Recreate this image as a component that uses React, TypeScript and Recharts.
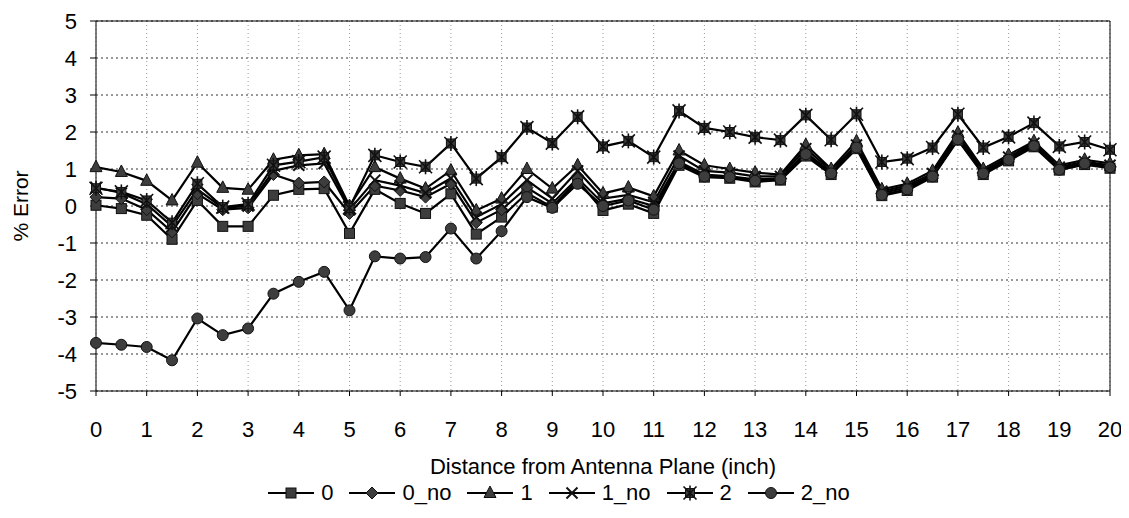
import {
  LineChart,
  Line,
  XAxis,
  YAxis,
  CartesianGrid,
  Legend,
  ReferenceLine,
} from "recharts";

// Distance from the antenna plane (inch), sampled every half inch
const distances = [
  0, 0.5, 1, 1.5, 2, 2.5, 3, 3.5, 4, 4.5, 5, 5.5, 6, 6.5, 7, 7.5, 8, 8.5, 9, 9.5, 10,
  10.5, 11, 11.5, 12, 12.5, 13, 13.5, 14, 14.5, 15, 15.5, 16, 16.5, 17, 17.5, 18, 18.5,
  19, 19.5, 20,
];

// % error for each configuration
const err0 = [
  0.02, -0.07, -0.25, -0.9, 0.15, -0.55, -0.55, 0.29, 0.45, 0.47, -0.74, 0.45, 0.07, -0.2,
  0.33, -0.76, -0.3, 0.35, -0.03, 0.69, -0.12, 0.05, -0.2, 1.1, 0.78, 0.75, 0.65, 0.7,
  1.35, 0.85, 1.55, 0.28, 0.42, 0.78, 1.78, 0.85, 1.22, 1.6, 0.97, 1.12, 1.02,
];
const err0No = [
  0.24, 0.2, -0.1, -0.7, 0.33, -0.1, -0.05, 0.85, 0.62, 0.65, -0.2, 0.55, 0.42, 0.24,
  0.6, -0.45, -0.1, 0.5, 0.07, 0.75, 0.07, 0.2, 0.0, 1.2, 0.85, 0.8, 0.72, 0.75, 1.45,
  0.9, 1.6, 0.35, 0.5, 0.83, 1.85, 0.9, 1.28, 1.65, 1.0, 1.17, 1.07,
];
const err1 = [
  1.05, 0.92, 0.68, 0.15, 1.17, 0.49, 0.44, 1.25, 1.37, 1.4, 0.0, 1.05, 0.74, 0.47, 0.96,
  -0.12, 0.2, 1.0, 0.47, 1.1, 0.34, 0.5, 0.26, 1.5, 1.1, 1.0, 0.9, 0.85, 1.65, 1.0, 1.75,
  0.45, 0.6, 0.95, 1.98, 1.0, 1.38, 1.75, 1.1, 1.25, 1.15,
];
const err1No = [
  0.5, 0.35, 0.05, -0.55, 0.45, -0.05, 0.0, 0.95, 1.1, 1.15, -0.1, 0.7, 0.55, 0.35, 0.75,
  -0.3, 0.05, 0.7, 0.2, 0.95, 0.2, 0.3, 0.1, 1.35, 0.95, 0.9, 0.8, 0.8, 1.55, 0.95, 1.65,
  0.4, 0.55, 0.88, 1.9, 0.95, 1.32, 1.7, 1.05, 1.2, 1.1,
];
const err2 = [
  0.48, 0.38, 0.15, -0.45, 0.6, -0.03, 0.05, 1.1, 1.2, 1.32, -0.05, 1.37, 1.19, 1.06,
  1.69, 0.74, 1.32, 2.12, 1.7, 2.41, 1.61, 1.76, 1.32, 2.57, 2.11, 2.0, 1.86, 1.78, 2.45,
  1.79, 2.48, 1.19, 1.28, 1.58, 2.48, 1.58, 1.87, 2.24, 1.61, 1.73, 1.52,
];
const err2No = [
  -3.7, -3.75, -3.81, -4.17, -3.04, -3.49, -3.31, -2.37, -2.05, -1.78, -2.82, -1.36, -1.42,
  -1.38, -0.61, -1.42, -0.68, 0.24, -0.05, 0.6, 0.0, 0.15, -0.1, 1.15, 0.8, 0.78, 0.68,
  0.72, 1.4, 0.88, 1.58, 0.3, 0.45, 0.8, 1.8, 0.88, 1.25, 1.62, 0.98, 1.15, 1.05,
];

const xTicks = [0, 1, 2, 3, 4, 5, 6, 7, 8, 9, 10, 11, 12, 13, 14, 15, 16, 17, 18, 19, 20];
const yTicks = [-5, -4, -3, -2, -1, 0, 1, 2, 3, 4, 5];

type Shape = "square" | "diamond" | "triangle" | "cross" | "star" | "circle";

const series: { key: string; name: string; values: number[]; shape: Shape }[] = [
  { key: "s0", name: "0", values: err0, shape: "square" },
  { key: "s0no", name: "0_no", values: err0No, shape: "diamond" },
  { key: "s1", name: "1", values: err1, shape: "triangle" },
  { key: "s1no", name: "1_no", values: err1No, shape: "cross" },
  { key: "s2", name: "2", values: err2, shape: "star" },
  { key: "s2no", name: "2_no", values: err2No, shape: "circle" },
];

const data = distances.map((d, i) => {
  const row: Record<string, number> = { x: d };
  series.forEach((s) => (row[s.key] = s.values[i]));
  return row;
});

const FONT = "'Liberation Sans', Arial, sans-serif";
const MARK_FILL = "#3d3d3d";
const MARK_STROKE = "#111";

function Marker({ shape, cx, cy }: { shape: Shape; cx: number; cy: number }) {
  const common = { fill: MARK_FILL, stroke: MARK_STROKE, strokeWidth: 1 };
  switch (shape) {
    case "square":
      return <rect x={cx - 5} y={cy - 5} width={10} height={10} {...common} />;
    case "diamond":
      return (
        <polygon
          points={`${cx},${cy - 6} ${cx + 6},${cy} ${cx},${cy + 6} ${cx - 6},${cy}`}
          {...common}
        />
      );
    case "triangle":
      return (
        <polygon
          points={`${cx},${cy - 7} ${cx + 6},${cy + 4.5} ${cx - 6},${cy + 4.5}`}
          {...common}
        />
      );
    case "cross":
      return (
        <g stroke={MARK_STROKE} strokeWidth={2}>
          <line x1={cx - 5.5} y1={cy - 5.5} x2={cx + 5.5} y2={cy + 5.5} />
          <line x1={cx - 5.5} y1={cy + 5.5} x2={cx + 5.5} y2={cy - 5.5} />
        </g>
      );
    case "star":
      return (
        <g>
          <rect x={cx - 4.5} y={cy - 4.5} width={9} height={9} {...common} />
          <g stroke={MARK_STROKE} strokeWidth={1.6}>
            <line x1={cx - 6.5} y1={cy - 6.5} x2={cx + 6.5} y2={cy + 6.5} />
            <line x1={cx - 6.5} y1={cy + 6.5} x2={cx + 6.5} y2={cy - 6.5} />
            <line x1={cx} y1={cy - 7.5} x2={cx} y2={cy + 7.5} />
          </g>
        </g>
      );
    default:
      return <circle cx={cx} cy={cy} r={5.5} {...common} />;
  }
}

function LegendRow() {
  return (
    <div
      style={{
        height: 24,
        display: "flex",
        justifyContent: "center",
        alignItems: "center",
        gap: 16,
        fontFamily: FONT,
        fontSize: 22,
        color: "#000",
      }}
    >
      {series.map((s) => (
        <div key={s.key} style={{ display: "flex", alignItems: "center", gap: 7 }}>
          <svg width={46} height={18}>
            <line x1={0} y1={9} x2={46} y2={9} stroke="#000" strokeWidth={2} />
            <Marker shape={s.shape} cx={23} cy={9} />
          </svg>
          <span>{s.name}</span>
        </div>
      ))}
    </div>
  );
}

export default function App() {
  return (
    <LineChart
      width={1113}
      height={502}
      data={data}
      margin={{ top: 13, right: 11, left: 0, bottom: 5 }}
      style={{ fontFamily: FONT }}
    >
      <CartesianGrid vertical={false} stroke="#333" strokeDasharray="2 3" />
      <CartesianGrid horizontal={false} stroke="#999" strokeDasharray="1 3" />
      <XAxis
        dataKey="x"
        type="number"
        domain={[0, 20]}
        ticks={xTicks}
        interval={0}
        height={90}
        stroke="#000"
        tickSize={5}
        tickMargin={25}
        tick={{ fill: "#000", fontSize: 22 }}
        label={{
          value: "Distance from Antenna Plane (inch)",
          position: "insideBottom",
          offset: 7,
          fill: "#000",
          fontSize: 22,
        }}
      />
      <YAxis
        type="number"
        domain={[-5, 5]}
        ticks={yTicks}
        interval={0}
        width={88}
        stroke="#000"
        tickSize={6}
        tickMargin={13}
        tick={{ fill: "#000", fontSize: 22 }}
        label={{
          value: "% Error",
          angle: -90,
          position: "insideLeft",
          offset: 13,
          fill: "#000",
          fontSize: 21,
          style: { textAnchor: "middle" },
        }}
      />
      <ReferenceLine y={5} stroke="#000" />
      <ReferenceLine x={20} stroke="#000" />
      <Legend verticalAlign="bottom" content={() => <LegendRow />} />
      {series.map((s) => (
        <Line
          key={s.key}
          dataKey={s.key}
          name={s.name}
          stroke="#000"
          strokeWidth={2.2}
          isAnimationActive={false}
          dot={(p: any) => (
            <Marker key={`${s.key}-${p.index}`} shape={s.shape} cx={p.cx} cy={p.cy} />
          )}
          activeDot={false}
        />
      ))}
    </LineChart>
  );
}
